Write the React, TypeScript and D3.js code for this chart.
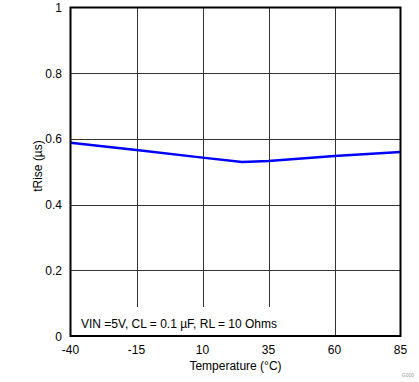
import React from "react";
import * as d3 from "d3";

const temps = [-40, -15, 10, 25, 35, 60, 85];
const tRise = [0.588, 0.566, 0.543, 0.530, 0.533, 0.548, 0.560];
const xTicks = [-40, -15, 10, 35, 60, 85];
const yTicks = [0, 0.2, 0.4, 0.6, 0.8, 1];

export default function App() {
  const W = 419, H = 382;
  const left = 70.5, right = 400.5, top = 7.5, bottom = 336;
  const x = d3.scaleLinear().domain([-40, 85]).range([left, right]);
  const y = d3.scaleLinear().domain([0, 1]).range([bottom, top]);
  const line = d3.line<number>().x((_, i) => x(temps[i])).y((d) => y(d));
  const font = "'Liberation Sans', Arial, sans-serif";
  return (
    <svg width={W} height={H} style={{ position: "absolute", left: 0, top: 0, background: "#fff" }}>
      <rect width={W} height={H} fill="#fff" />
      {xTicks.slice(1, -1).map((t) => (
        <line key={"vx" + t} x1={Math.round(x(t)) + 0.5} x2={Math.round(x(t)) + 0.5} y1={top} y2={bottom} stroke="#333" strokeWidth={1} />
      ))}
      {yTicks.slice(1, -1).map((t) => (
        <line key={"hy" + t} x1={left} x2={right} y1={Math.round(y(t)) + 0.5} y2={Math.round(y(t)) + 0.5} stroke="#333" strokeWidth={1} />
      ))}
      <rect x={72} y={307} width={252} height={28} fill="#fff" />
      <text x={81} y={328} fontFamily={font} fontSize={12} fill="#000">VIN =5V, CL = 0.1 µF, RL = 10 Ohms</text>
      <path d={line(tRise) || ""} fill="none" stroke="#0000ff" strokeWidth={2.5} />
      <rect x={left} y={top} width={right - left} height={bottom - top} fill="none" stroke="#000" strokeWidth={2} />
      {yTicks.map((t) => (
        <text key={"yl" + t} x={62} y={y(t) + 4.5} textAnchor="end" fontFamily={font} fontSize={12} fill="#000">{t === 0 || t === 1 ? String(t) : t.toFixed(1)}</text>
      ))}
      {xTicks.map((t) => (
        <text key={"xl" + t} x={x(t)} y={354} textAnchor="middle" fontFamily={font} fontSize={12} fill="#000">{String(t)}</text>
      ))}
      <text x={(left + right) / 2} y={370} textAnchor="middle" fontFamily={font} fontSize={12} fill="#000">Temperature (°C)</text>
      <text transform={`translate(42,166) rotate(-90)`} textAnchor="middle" fontFamily={font} fontSize={12} fill="#000">tRise (µs)</text>
      <text x={414} y={377} textAnchor="end" fontFamily={font} fontSize={5} fill="#999">G000</text>
    </svg>
  );
}
